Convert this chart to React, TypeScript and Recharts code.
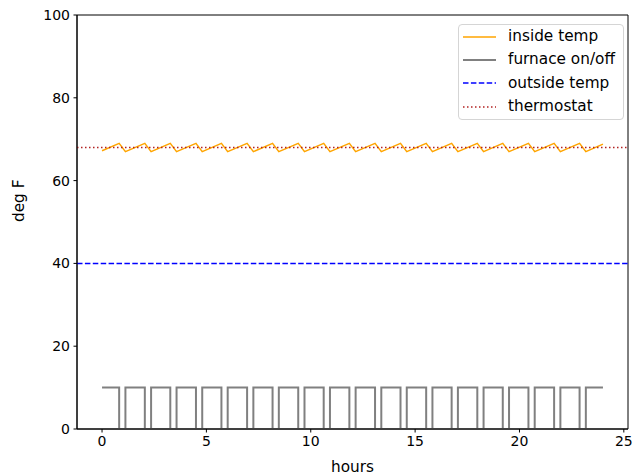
import {
  LineChart,
  Line,
  XAxis,
  YAxis,
  ReferenceLine,
  ReferenceArea,
  Legend,
} from 'recharts';

// hours when the furnace switches off / back on
const offHours = [0.82, 2.05, 3.27, 4.5, 5.72, 6.95, 8.17, 9.4, 10.62, 11.85, 13.08, 14.3, 15.53, 16.75, 17.98, 19.2, 20.43, 21.66, 22.88];
const onHours = [1.12, 2.35, 3.57, 4.8, 6.02, 7.25, 8.47, 9.7, 10.92, 12.15, 13.38, 14.6, 15.83, 17.05, 18.28, 19.5, 20.73, 21.96, 23.18];
// inside temp at the peaks (furnace off) and troughs (furnace on)
const peakTemps = [69.0, 69.0, 69.0, 69.0, 69.0, 69.0, 69.0, 69.0, 69.0, 69.0, 69.0, 69.0, 69.0, 69.0, 69.0, 69.0, 69.0, 69.0, 69.0];
const troughTemps = [67.0, 67.0, 67.0, 67.0, 67.0, 67.0, 67.0, 67.0, 67.0, 67.0, 67.0, 67.0, 67.0, 67.0, 67.0, 67.0, 67.0, 67.0, 67.0];
const startTemp = 67.2;
const endTemp = 68.8;
const endHour = 24;
const furnaceOn = 10;
const furnaceOff = 0;
const outsideTemp = 40;
const thermostat = 68;

const xTicks = [0, 5, 10, 15, 20, 25];
const yTicks = [0, 20, 40, 60, 80, 100];

const data: { t: number; temp: number; furnace: number }[] = [
  { t: 0, temp: startTemp, furnace: furnaceOn },
];
offHours.forEach((h, i) => {
  data.push({ t: h, temp: peakTemps[i], furnace: furnaceOff });
  data.push({ t: onHours[i], temp: troughTemps[i], furnace: furnaceOn });
});
data.push({ t: endHour, temp: endTemp, furnace: furnaceOn });

const FONT = '"DejaVu Sans", sans-serif';

const legendItems = [
  { label: 'inside temp', color: '#FFA500', width: 1.5, dash: undefined },
  { label: 'furnace on/off', color: '#808080', width: 2, dash: undefined },
  { label: 'outside temp', color: '#0000FF', width: 1.5, dash: '5.5 2.4' },
  { label: 'thermostat', color: '#B22222', width: 1.5, dash: '1.5 2.5' },
];

function LegendBox() {
  return (
    <div style={s.legend}>
      {legendItems.map((it) => (
        <div key={it.label} style={s.row}>
          <svg width={33} height={10} style={{ marginRight: 12 }}>
            <line
              x1={0}
              x2={33}
              y1={5}
              y2={5}
              stroke={it.color}
              strokeWidth={it.width}
              strokeDasharray={it.dash}
            />
          </svg>
          <span>{it.label}</span>
        </div>
      ))}
    </div>
  );
}

export default function App() {
  return (
    <div style={s.page}>
      <LineChart
        width={636}
        height={476}
        data={data}
        margin={{ top: 15, right: 8, left: 0, bottom: 0 }}
      >
        <XAxis
          type="number"
          dataKey="t"
          domain={[-1.2, 25.2]}
          ticks={xTicks}
          allowDataOverflow
          height={47}
          tickSize={3.5}
          tickMargin={3.5}
          stroke="#000"
          tick={{ fill: '#000', fontSize: 14, fontFamily: FONT }}
          label={{ value: 'hours', position: 'insideBottom', offset: 4, fill: '#000', fontSize: 15.3, fontFamily: FONT }}
        />
        <YAxis
          type="number"
          domain={[0, 100]}
          ticks={yTicks}
          allowDataOverflow
          width={77}
          tickSize={3.5}
          tickMargin={3.5}
          stroke="#000"
          tick={{ fill: '#000', fontSize: 14, fontFamily: FONT }}
          label={{ value: 'deg F', angle: -90, position: 'insideLeft', offset: 19, fill: '#000', fontSize: 15.3, fontFamily: FONT }}
        />
        <ReferenceArea x1={-1.2} x2={25.2} y1={0} y2={100} fill="none" stroke="#000" strokeWidth={1} />
        <Line
          dataKey="temp"
          type="linear"
          stroke="#FFA500"
          strokeWidth={1.5}
          dot={false}
          isAnimationActive={false}
        />
        <Line
          dataKey="furnace"
          type="stepAfter"
          stroke="#808080"
          strokeWidth={2}
          dot={false}
          isAnimationActive={false}
        />
        <ReferenceLine y={outsideTemp} stroke="#0000FF" strokeWidth={1.5} strokeDasharray="5.5 2.4" />
        <ReferenceLine y={thermostat} stroke="#B22222" strokeWidth={1.5} strokeDasharray="1.5 2.5" />
        <Legend
          layout="horizontal"
          verticalAlign="middle"
          align="center"
          wrapperStyle={{ left: 458, top: 24, width: 'auto', height: 'auto' }}
          content={() => <LegendBox />}
        />
      </LineChart>
    </div>
  );
}

const s: Record<string, React.CSSProperties> = {
  page: {
    position: 'absolute',
    left: 0,
    top: 0,
    width: 636,
    height: 476,
    background: '#FFFFFF',
  },
  legend: {
    boxSizing: 'border-box',
    width: 166,
    height: 96,
    padding: '0 0 0 4px',
    border: '1px solid #D5D5D5',
    borderRadius: 4,
    background: 'rgba(255,255,255,0.8)',
    fontFamily: FONT,
    fontSize: 15.3,
    color: '#000',
  },
  row: {
    display: 'flex',
    alignItems: 'center',
    height: 23.3,
    lineHeight: '23.3px',
    whiteSpace: 'nowrap',
  },
};
